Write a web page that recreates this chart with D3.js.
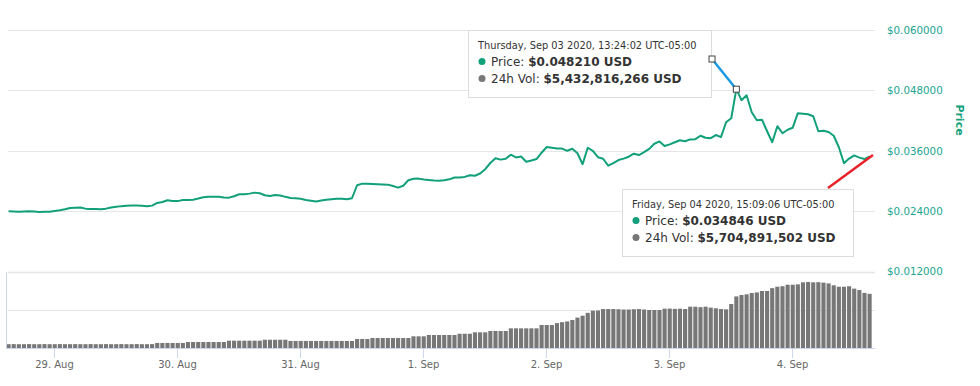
<!DOCTYPE html>
<html>
<head>
<meta charset="utf-8">
<script src="https://cdn.jsdelivr.net/npm/d3@7"></script>
<style>
  body { margin: 0; background: #fff; }
  svg { display: block; font-family: "DejaVu Sans", Verdana, sans-serif; }
</style>
</head>
<body>
<div id="chart"></div>
<script>
// hourly samples starting 28 Aug 2020 15:09 (UTC-05:00)
var startTime = Date.UTC(2020, 7, 28, 15, 9);

var prices = [
  0.02390, 0.02386, 0.02380, 0.02386, 0.02390, 0.02384, 0.02376, 0.02378, 0.02380, 0.02396,
  0.02410, 0.02430, 0.02456, 0.02460, 0.02464, 0.02442, 0.02436, 0.02436, 0.02428, 0.02442,
  0.02466, 0.02480, 0.02492, 0.02500, 0.02504, 0.02504, 0.02500, 0.02490, 0.02502, 0.02556,
  0.02574, 0.02608, 0.02596, 0.02592, 0.02614, 0.02612, 0.02620, 0.02643, 0.02669, 0.02677,
  0.02681, 0.02679, 0.02663, 0.02661, 0.02689, 0.02729, 0.02731, 0.02741, 0.02761, 0.02749,
  0.02709, 0.02695, 0.02715, 0.02705, 0.02677, 0.02655, 0.02647, 0.02639, 0.02616, 0.02600,
  0.02586, 0.02602, 0.02618, 0.02631, 0.02639, 0.02639, 0.02629, 0.02649, 0.02908, 0.02940,
  0.02938, 0.02932, 0.02928, 0.02924, 0.02920, 0.02892, 0.02861, 0.02898, 0.03008, 0.03036,
  0.03040, 0.03024, 0.03012, 0.03002, 0.02996, 0.03008, 0.03026, 0.03062, 0.03062, 0.03074,
  0.03108, 0.03098, 0.03141, 0.03227, 0.03351, 0.03446, 0.03418, 0.03436, 0.03516, 0.03462,
  0.03480, 0.03376, 0.03400, 0.03430, 0.03556, 0.03669, 0.03653, 0.03639, 0.03639, 0.03594,
  0.03635, 0.03546, 0.03327, 0.03655, 0.03594, 0.03466, 0.03436, 0.03297, 0.03347, 0.03410,
  0.03438, 0.03476, 0.03536, 0.03510, 0.03566, 0.03633, 0.03735, 0.03781, 0.03689, 0.03723,
  0.03765, 0.03805, 0.03785, 0.03821, 0.03825, 0.03894, 0.03855, 0.03845, 0.03908, 0.03865,
  0.04163, 0.04243, 0.04821, 0.04602, 0.04701, 0.04363, 0.04203, 0.04213, 0.03984, 0.03765,
  0.04084, 0.03944, 0.04014, 0.04054, 0.04343, 0.04333, 0.04323, 0.04283, 0.03984, 0.03994,
  0.03968, 0.03894, 0.03665, 0.03347, 0.03440, 0.03502, 0.03458, 0.03430, 0.034846
];

// 24h volume, billions of USD
var volumes = [
  0.40, 0.41, 0.40, 0.40, 0.41, 0.40, 0.40, 0.41, 0.40, 0.40,
  0.41, 0.40, 0.40, 0.41, 0.40, 0.40, 0.41, 0.40, 0.40, 0.41,
  0.40, 0.40, 0.41, 0.40, 0.40, 0.41, 0.40, 0.40, 0.41, 0.53,
  0.53, 0.53, 0.53, 0.53, 0.53, 0.63, 0.63, 0.63, 0.63, 0.63,
  0.63, 0.63, 0.63, 0.77, 0.77, 0.77, 0.77, 0.77, 0.77, 0.77,
  0.87, 0.87, 0.87, 0.87, 0.87, 0.74, 0.74, 0.74, 0.74, 0.74,
  0.74, 0.74, 0.74, 0.74, 0.74, 0.74, 0.74, 0.74, 0.95, 0.95,
  0.95, 1.05, 1.05, 1.05, 1.05, 1.05, 1.05, 1.05, 1.05, 1.23,
  1.23, 1.23, 1.37, 1.37, 1.37, 1.37, 1.37, 1.37, 1.50, 1.50,
  1.50, 1.65, 1.65, 1.65, 1.79, 1.79, 1.79, 1.79, 2.07, 2.07,
  2.07, 2.07, 2.07, 2.07, 2.42, 2.42, 2.42, 2.62, 2.72, 2.80,
  2.95, 3.20, 3.40, 3.70, 3.93, 3.95, 4.10, 4.10, 4.10, 4.08,
  4.05, 4.05, 4.08, 4.10, 4.05, 4.00, 4.00, 4.00, 4.14, 4.15,
  4.12, 4.14, 4.10, 4.35, 4.35, 4.30, 4.35, 4.25, 4.18, 4.10,
  4.07, 4.63, 5.43, 5.58, 5.65, 5.79, 5.85, 6.00, 6.00, 6.30,
  6.45, 6.50, 6.66, 6.66, 6.70, 6.91, 6.95, 6.91, 6.93, 6.88,
  6.80, 6.60, 6.45, 6.45, 6.50, 6.25, 6.10, 5.80, 5.70
];

var priceTicks = [0.012, 0.024, 0.036, 0.048, 0.060];
var volumeTicks = [0, 4, 8];

var tooltips = [
  { date: "Thursday, Sep 03 2020, 13:24:02 UTC-05:00", price: "$0.048210 USD", vol: "$5,432,816,266 USD" },
  { date: "Friday, Sep 04 2020, 15:09:06 UTC-05:00", price: "$0.034846 USD", vol: "$5,704,891,502 USD" }
];

var svgWidth = 980;
var svgHeight = 386;
var green = "#12a07a";

var data = prices.map(function(p, i) {
  return { t: new Date(startTime + i * 3600000), price: p, vol: volumes[i] };
});

var svg = d3.select("#chart")
  .append("svg")
  .attr("width", svgWidth)
  .attr("height", svgHeight);

// scales
var xScale = d3.scaleUtc()
  .domain([data[0].t, data[data.length - 1].t])
  .range([8.6, 869.6]);

var yPrice = d3.scaleLinear()
  .domain([0.012, 0.060])
  .range([271, 30]);

var yVol = d3.scaleLinear()
  .domain([0, 8])
  .range([348, 272]);

// price gridlines
svg.append("g")
  .selectAll("line")
  .data(priceTicks.slice(1))
  .enter()
  .append("line")
  .attr("x1", 8)
  .attr("x2", 875)
  .attr("y1", d => Math.round(yPrice(d)) + 0.5)
  .attr("y2", d => Math.round(yPrice(d)) + 0.5)
  .attr("stroke", "#e6e6e6");

// volume pane gridlines
svg.append("g")
  .selectAll("line")
  .data(volumeTicks.slice(1))
  .enter()
  .append("line")
  .attr("x1", 8)
  .attr("x2", 875)
  .attr("y1", d => Math.round(yVol(d)) + 0.5)
  .attr("y2", d => Math.round(yVol(d)) + 0.5)
  .attr("stroke", "#e6e6e6")
  .attr("stroke-width", d => d === 8 ? 1.5 : 1);

// price axis labels
svg.append("g")
  .selectAll("text")
  .data(priceTicks)
  .enter()
  .append("text")
  .attr("x", 887)
  .attr("y", d => yPrice(d) + 4)
  .attr("fill", "#22a58f")
  .attr("font-size", "10.3px")
  .text(d => "$" + d.toFixed(6));

svg.append("text")
  .attr("transform", "translate(956, 120) rotate(90)")
  .attr("text-anchor", "middle")
  .attr("fill", green)
  .attr("font-size", "11px")
  .attr("font-weight", "bold")
  .text("Price");

// volume bars
var barW = xScale(new Date(startTime + 3600000)) - xScale(new Date(startTime));
svg.append("g")
  .selectAll("rect")
  .data(data)
  .enter()
  .append("rect")
  .attr("x", d => xScale(d.t) - barW / 2 + 0.5)
  .attr("y", d => yVol(d.vol))
  .attr("width", barW - 1)
  .attr("height", d => yVol(0) - yVol(d.vol))
  .attr("fill", "#777777");

// price line
var line = d3.line()
  .x(d => xScale(d.t))
  .y(d => yPrice(d.price));

svg.append("path")
  .datum(data)
  .attr("d", line)
  .attr("fill", "none")
  .attr("stroke", green)
  .attr("stroke-width", 2)
  .attr("stroke-linejoin", "round");

// x axis
var xAxis = d3.axisBottom(xScale)
  .ticks(d3.utcDay.every(1))
  .tickFormat(d3.utcFormat("%-d. %b"))
  .tickSizeOuter(0)
  .tickSize(10)
  .tickPadding(3);

var xg = svg.append("g")
  .attr("transform", "translate(0, 348)")
  .call(xAxis);
xg.select(".domain").attr("d", "M6,0.5H875").attr("stroke", "#ccd6eb");
xg.selectAll(".tick line").attr("stroke", "#ccd6eb");
xg.selectAll(".tick text")
  .attr("fill", "#666")
  .attr("font-size", "10px")
  .attr("font-family", "\"DejaVu Sans\", sans-serif");

// left line of the volume pane
svg.append("line")
  .attr("x1", 6.5).attr("x2", 6.5)
  .attr("y1", 272).attr("y2", 348)
  .attr("stroke", "#ccd6eb");

// connectors
svg.append("line")
  .attr("x1", 712).attr("y1", 59)
  .attr("x2", xScale(data[142].t)).attr("y2", yPrice(prices[142]))
  .attr("stroke", "#1a9ae0")
  .attr("stroke-width", 2.5);

svg.append("line")
  .attr("x1", 828).attr("y1", 188)
  .attr("x2", 873).attr("y2", 155)
  .attr("stroke", "#e8222a")
  .attr("stroke-width", 2.5);

// tooltips
var boxes = [
  { x: 468, y: 30, w: 243, h: 67 },
  { x: 622, y: 189, w: 231, h: 67 }
];

tooltips.forEach(function(tip, k) {
  var b = boxes[k];
  var g = svg.append("g").attr("transform", `translate(${b.x}, ${b.y})`);
  g.append("rect")
    .attr("x", 0.5).attr("y", 0.5)
    .attr("width", b.w).attr("height", b.h)
    .attr("fill", "rgba(255,255,255,0.92)")
    .attr("stroke", "#dcdcdc");
  g.append("text")
    .attr("x", 10).attr("y", 19)
    .attr("fill", "#333")
    .attr("font-size", "9.8px")
    .text(tip.date);
  var rows = [["Price: ", tip.price, green], ["24h Vol: ", tip.vol, "#777"]];
  rows.forEach(function(r, j) {
    var yy = 36 + j * 17;
    g.append("circle")
      .attr("cx", 14).attr("cy", yy - 4.5)
      .attr("r", 3.5)
      .attr("fill", r[2]);
    var t = g.append("text")
      .attr("x", 23).attr("y", yy)
      .attr("fill", "#333")
      .attr("font-size", "12px");
    t.append("tspan").text(r[0]);
    t.append("tspan").attr("font-weight", "bold").text(r[1]);
  });
});

// square markers on the blue connector
svg.append("g")
  .selectAll("rect")
  .data([[712, 59], [xScale(data[142].t), yPrice(prices[142])]])
  .enter()
  .append("rect")
  .attr("x", d => d[0] - 3)
  .attr("y", d => d[1] - 3)
  .attr("width", 6)
  .attr("height", 6)
  .attr("fill", "#fff")
  .attr("stroke", "#444");
</script>
</body>
</html>
